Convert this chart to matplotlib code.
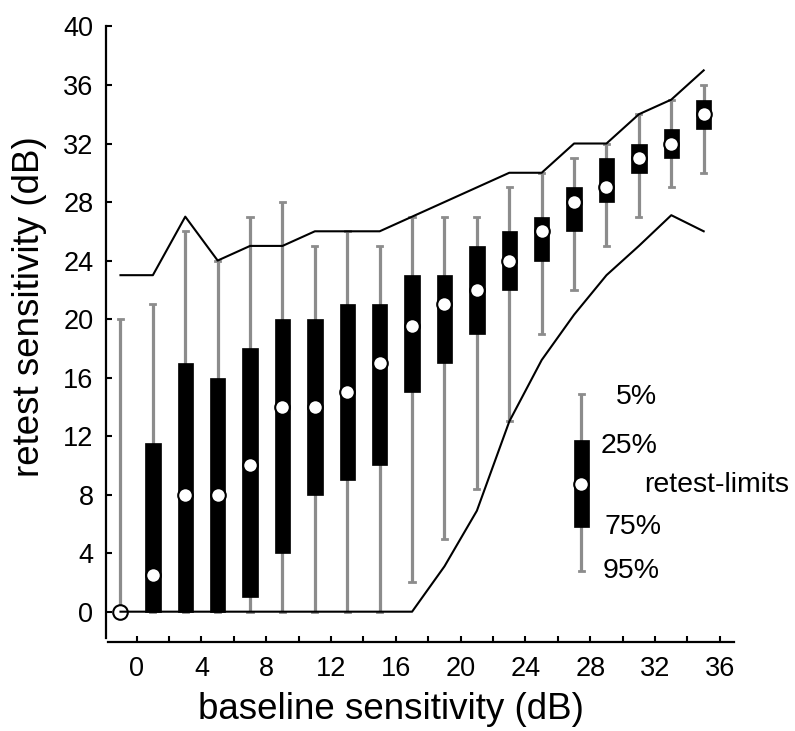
import numpy as np
import matplotlib
matplotlib.use("Agg")
import matplotlib.pyplot as plt
from matplotlib.patches import Rectangle

plt.rcParams["font.family"] = ["Liberation Sans", "DejaVu Sans"]

# baseline bins (dB) and retest distribution per bin
BASE = [-1, 1, 3, 5, 7, 9, 11, 13, 15, 17, 19, 21, 23, 25, 27, 29, 31, 33, 35]
W_TOP = [20, 21, 26, 24, 27, 28, 25, 26, 25, 27, 27, 27, 29, 30, 31, 32, 34, 35, 36]
Q_TOP = [np.nan, 11.5, 17, 16, 18, 20, 20, 21, 21, 23, 23, 25, 26, 27, 29, 31, 32, 33, 35]
MED = [0, 2.5, 8, 8, 10, 14, 14, 15, 17, 19.5, 21, 22, 24, 26, 28, 29, 31, 32, 34]
Q_BOT = [np.nan, 0, 0, 0, 1, 4, 8, 9, 10, 15, 17, 19, 22, 24, 26, 28, 30, 31, 33]
W_BOT = [0, 0, 0, 0, 0, 0, 0, 0, 0, 2, 5, 8.4, 13, 19, 22, 25, 27, 29, 30]

# retest limits
LIM_UP = [23, 23, 27, 24, 25, 25, 26, 26, 26, 27, 28, 29, 30, 30, 32, 32, 34, 35, 37]
LIM_LO = [0, 0, 0, 0, 0, 0, 0, 0, 0, 0, 3.1, 6.9, 13, 17.2, 20.3, 23, 25, 27.1, 26]

# legend glyph values
KEY_X = 27.45
KEY = [14.85, 11.75, 8.7, 5.8, 2.8]  # top whisker, box top, median, box bottom, bottom whisker

GRAY = "#8c8c8c"
BW = 0.95
CAP = 0.32

fig = plt.figure(figsize=(7.95, 7.31), dpi=100)
ax = fig.add_axes([0.1332, 0.1222, 0.7927, 0.8476])


def draw_box(x, wt, qt, md, qb, wb):
    ax.plot([x, x], [wb, wt], color=GRAY, lw=2.3, zorder=2, solid_capstyle="butt")
    for w in (wt, wb):
        ax.plot([x - CAP / 2, x + CAP / 2], [w, w], color=GRAY, lw=2.0, zorder=2)
    if not np.isnan(qt):
        ax.add_patch(Rectangle((x - BW / 2, qb), BW, qt - qb, facecolor="black",
                               edgecolor="black", lw=0.5, zorder=3))
    ax.plot(x, md, "o", ms=10.5, mfc="white", mec="black", mew=1.5, zorder=4)


for i, x in enumerate(BASE):
    draw_box(x, W_TOP[i], Q_TOP[i], MED[i], Q_BOT[i], W_BOT[i])

ax.plot(BASE, LIM_UP, color="black", lw=1.5, zorder=5)
ax.plot(BASE, LIM_LO, color="black", lw=1.5, zorder=5)

# legend
draw_box(KEY_X, KEY[0], KEY[1], KEY[2], KEY[3], KEY[4])
fs = 20.5
ax.text(29.55, 14.7, "5%", fontsize=fs, va="center", ha="left")
ax.text(28.65, 11.35, "25%", fontsize=fs, va="center", ha="left")
ax.text(31.35, 8.65, "retest-limits", fontsize=fs, va="center", ha="left")
ax.text(28.85, 5.8, "75%", fontsize=fs, va="center", ha="left")
ax.text(28.75, 2.8, "95%", fontsize=fs, va="center", ha="left")

ax.set_xlim(-1.9, 37)
ax.set_ylim(-2.05, 40.3)
for s in ("top", "right"):
    ax.spines[s].set_visible(False)
ax.spines["left"].set_bounds(-1.8, 40)
ax.spines["bottom"].set_bounds(-1.75, 36.9)
for s in ("left", "bottom"):
    ax.spines[s].set_linewidth(1.6)

ax.set_xticks(np.arange(0, 37, 4))
ax.set_xticks(np.arange(2, 36, 4), minor=True)
ax.set_yticks(np.arange(0, 41, 4))
ax.tick_params(which="both", direction="in", length=4, width=1.5)
ax.tick_params(axis="x", which="major", labelsize=19.5, pad=10.5)
ax.tick_params(axis="y", labelsize=19.5, pad=9)

ax.set_xlabel("baseline sensitivity (dB)", fontsize=26.5, va="center")
ax.xaxis.set_label_coords(0.4524, -0.110)
ax.set_ylabel("retest sensitivity (dB)", fontsize=26.5, va="center")
ax.yaxis.set_label_coords(-0.122, 0.5407)

fig.savefig("out.png", dpi=100)
